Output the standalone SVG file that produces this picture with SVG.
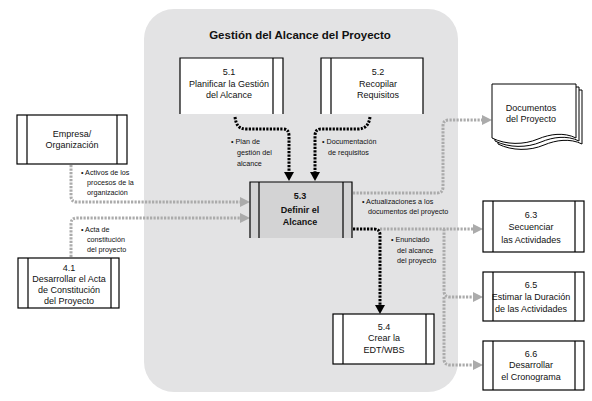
<svg xmlns="http://www.w3.org/2000/svg" width="592" height="401" viewBox="0 0 592 401">
<style>
text{font-family:"Liberation Sans",Arial,sans-serif;fill:#111}
.t{font-size:9px;text-anchor:middle}
.b{font-weight:bold}
.l{font-size:7.2px}
.box{fill:#fff;stroke:#000;stroke-width:1.2}
.ln{fill:none;stroke:#000;stroke-width:1.2}
.bk{fill:none;stroke:#000;stroke-width:3;stroke-dasharray:2.2 1.3}
.gr{fill:none;stroke:#ababab;stroke-width:3;stroke-dasharray:2.2 1.3}
</style>
<defs>
<marker id="ab" markerUnits="userSpaceOnUse" markerWidth="12" markerHeight="12" refX="0" refY="5" orient="auto"><path d="M0,0 L9,5 L0,10 Z" fill="#000"/></marker>
<marker id="ag" markerUnits="userSpaceOnUse" markerWidth="12" markerHeight="12" refX="0" refY="5" orient="auto"><path d="M0,0 L10,5 L0,10 Z" fill="#ababab"/></marker>
</defs>
<rect x="0" y="0" width="592" height="401" fill="#fff"/>
<rect id="region" x="144" y="9" width="314" height="383" rx="30" fill="#e3e3e4"/>
<text x="300" y="39" class="b" style="font-size:11.5px;text-anchor:middle">Gestión del Alcance del Proyecto</text>

<g id="connectors">
<path class="bk" d="M235,117 C236,124 238,129 246,129 H283 Q289,129 289,136 V172" marker-end="url(#ab)"/>
<path class="bk" d="M370,117 C369,124 366,129 358,129 H321 Q315,129 315,136 V172" marker-end="url(#ab)"/>
<path class="gr" d="M71,165 V196 Q71,202 77,202 H240" marker-end="url(#ag)"/>
<path class="gr" d="M71,257 V224 Q71,218 77,218 H240" marker-end="url(#ag)"/>
<path class="gr" d="M353,193 H437 Q443,193 443,187 V126 Q443,120 449,120 H482" marker-end="url(#ag)"/>
<path class="gr" d="M380,229 H473" marker-end="url(#ag)"/>
<path class="gr" d="M444,229 V291 Q444,297 450,297 H473" marker-end="url(#ag)"/>
<path class="gr" d="M444,297 V359 Q444,365 450,365 H473" marker-end="url(#ag)"/>
<path class="bk" d="M353,229 H374 Q380,229 380,235 V305" marker-end="url(#ab)"/>
</g>

<g id="labels">
<text class="l" x="231" y="144">• Plan de</text>
<text class="l" x="237" y="155">gestión del</text>
<text class="l" x="237" y="166">alcance</text>
<text class="l" x="322" y="144">• Documentación</text>
<text class="l" x="328" y="155">de requisitos</text>
<text class="l" x="81" y="175">• Activos de los</text>
<text class="l" x="87" y="185">procesos de la</text>
<text class="l" x="87" y="195">organización</text>
<text class="l" x="81" y="232">• Acta de</text>
<text class="l" x="87" y="242">constitución</text>
<text class="l" x="87" y="252">del proyecto</text>
<text class="l" x="362" y="204">• Actualizaciones a los</text>
<text class="l" x="368" y="214">documentos del proyecto</text>
<text class="l" x="391" y="242">• Enunciado</text>
<text class="l" x="397" y="253">del alcance</text>
<text class="l" x="397" y="263">del proyecto</text>
</g>

<g id="n51">
<rect x="180" y="58" width="103" height="56" fill="#fff"/>
<path class="ln" d="M180,114 V58 H283 V114 M273,58 V114"/>
<text class="t" x="229" y="75">5.1</text>
<text class="t" x="229" y="87">Planificar la Gestión</text>
<text class="t" x="229" y="98">del Alcance</text>
</g>
<g id="n52">
<rect x="321" y="58" width="102" height="56" fill="#fff"/>
<path class="ln" d="M321,114 V58 H423 V114 M331,58 V114"/>
<text class="t" x="378" y="75">5.2</text>
<text class="t" x="378" y="87">Recopilar</text>
<text class="t" x="378" y="98">Requisitos</text>
</g>
<g id="n53">
<rect x="250" y="182" width="102" height="56" fill="#d3d3d4"/>
<path class="ln" d="M250,238 V182 H352 V238 M259,182 V238 M343,182 V238"/>
<text class="t b" x="300" y="199">5.3</text>
<text class="t b" x="300" y="213">Definir el</text>
<text class="t b" x="300" y="225">Alcance</text>
</g>
<g id="nEmp">
<rect class="box" x="17" y="115" width="110" height="49"/>
<path class="ln" d="M27,115 V164 M117,115 V164"/>
<text class="t" x="72" y="137">Empresa/</text>
<text class="t" x="72" y="148">Organización</text>
</g>
<g id="n41">
<rect class="box" x="18" y="258" width="101" height="50"/>
<path class="ln" d="M28,258 V308 M111,258 V308"/>
<text class="t" x="69" y="271">4.1</text>
<text class="t" x="69" y="282">Desarrollar el Acta</text>
<text class="t" x="69" y="293">de Constitución</text>
<text class="t" x="69" y="304">del Proyecto</text>
</g>
<g id="n54">
<rect class="box" x="333" y="314" width="101" height="50"/>
<path class="ln" d="M343,314 V364 M426,314 V364"/>
<text class="t" x="384" y="330">5.4</text>
<text class="t" x="384" y="341">Crear la</text>
<text class="t" x="384" y="353">EDT/WBS</text>
</g>
<g id="n63">
<rect class="box" x="483" y="201" width="101" height="51"/>
<path class="ln" d="M493,201 V252 M575,201 V252"/>
<text class="t" x="531" y="218">6.3</text>
<text class="t" x="531" y="230">Secuenciar</text>
<text class="t" x="531" y="243">las Actividades</text>
</g>
<g id="n65">
<rect class="box" x="483" y="272" width="101" height="49"/>
<path class="ln" d="M493,272 V321 M575,272 V321"/>
<text class="t" x="531" y="288">6.5</text>
<text class="t" x="531" y="300">Estimar la Duración</text>
<text class="t" x="531" y="312">de las Actividades</text>
</g>
<g id="n66">
<rect class="box" x="483" y="341" width="101" height="49"/>
<path class="ln" d="M493,341 V390 M575,341 V390"/>
<text class="t" x="531" y="357">6.6</text>
<text class="t" x="531" y="368">Desarrollar</text>
<text class="t" x="531" y="380">el Cronograma</text>
</g>
<g id="nDocs">
<path d="M498,90 H582 V144 C570,138 556,140 544,145 C530,151 512,151 498,144 Z" fill="#fff" stroke="#000" stroke-width="1"/>
<path d="M495,87 H579 V141 C567,135 553,137 541,142 C527,148 509,148 495,141 Z" fill="#fff" stroke="#000" stroke-width="1"/>
<path d="M492,84 H576 V138 C564,132 550,134 538,139 C524,145 506,145 492,138 Z" fill="#fff" stroke="#000" stroke-width="1"/>
<text class="t" x="531" y="111">Documentos</text>
<text class="t" x="531" y="122">del Proyecto</text>
</g>
</svg>
